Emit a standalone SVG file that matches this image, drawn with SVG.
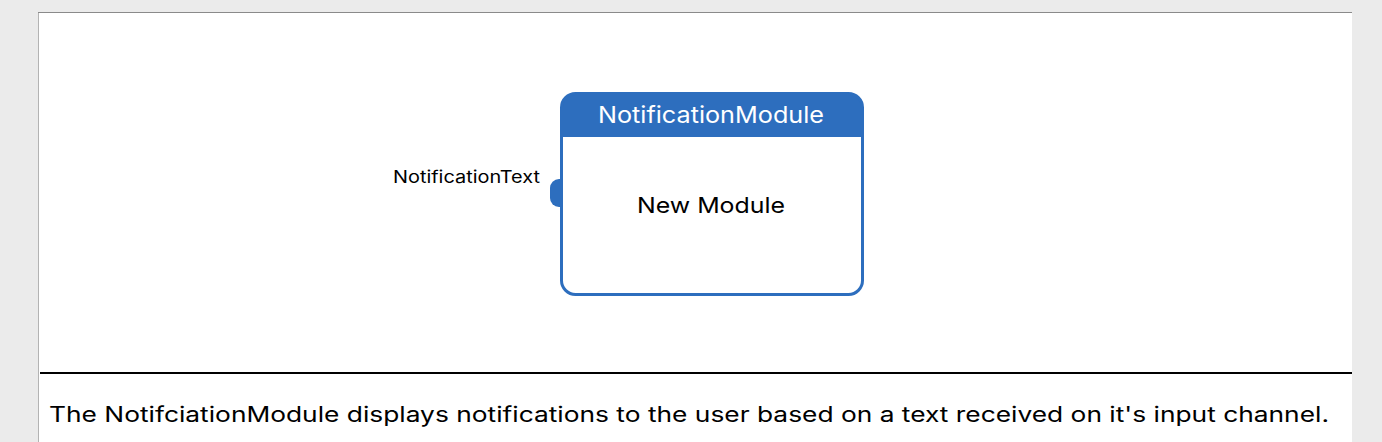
<svg xmlns="http://www.w3.org/2000/svg" width="1382" height="442" viewBox="0 0 1382 442">
<style>
text{font-family:Inter,"Noto Sans","Liberation Sans",sans-serif}
.title{fill:#ffffff;font-size:23px}
.body{fill:#000000;font-size:22px}
.port{fill:#000000;font-size:17px}
.desc{fill:#000000;font-size:21px}
</style>
<rect x="0" y="0" width="1382" height="442" fill="#ebebeb"/>
<rect x="38" y="12" width="1314" height="430" fill="#ffffff"/>
<line x1="38.5" y1="13" x2="38.5" y2="442" stroke="#b3b3b3" stroke-width="1"/>
<line x1="38" y1="12.5" x2="1352" y2="12.5" stroke="#8a8a8a" stroke-width="1"/>
<g id="connectors"></g>
<g id="NotificationModule">
<path d="M562,179 h-3 a9,9 0 0 0 -9,9 v10 a9,9 0 0 0 9,9 h3 z" fill="#2d6ebe"/>
<path d="M561.5,137 V107.5 a14,14 0 0 1 14,-14 h273 a14,14 0 0 1 14,14 V137 z" fill="#2d6ebe"/>
<rect x="561.5" y="93.5" width="301" height="201" rx="14" ry="14" fill="none" stroke="#2d6ebe" stroke-width="3"/>
<text class="title" x="711" y="123" text-anchor="middle" textLength="226" lengthAdjust="spacingAndGlyphs">NotificationModule</text>
<text class="body" x="711" y="213" text-anchor="middle" textLength="148" lengthAdjust="spacingAndGlyphs">New Module</text>
<text class="port" x="540" y="183" text-anchor="end" textLength="147" lengthAdjust="spacingAndGlyphs">NotificationText</text>
</g>
<rect x="40" y="372" width="1312" height="2" fill="#000000"/>
<text class="desc" x="49" y="422" textLength="1280" lengthAdjust="spacingAndGlyphs">The NotifciationModule displays notifications to the user based on a text received on it's input channel.</text>
</svg>
